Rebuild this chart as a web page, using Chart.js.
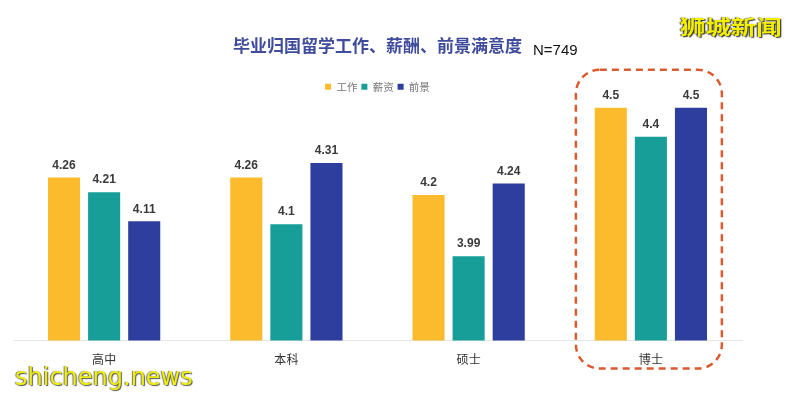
<!DOCTYPE html>
<html>
<head>
<meta charset="utf-8">
<script src="https://cdn.jsdelivr.net/npm/chart.js@4.4.1/dist/chart.umd.min.js"></script>
<style>
html,body{margin:0;padding:0;background:#fff;}
#wrap{position:relative;width:800px;height:397px;overflow:hidden;}
canvas{display:block;}
.n{position:absolute;left:533px;top:41px;font:15px "Liberation Sans",Arial,sans-serif;color:#111;}
.wm1{position:absolute;left:680px;top:16px;font:bold 20px "Noto Sans CJK SC",sans-serif;color:#f3ef00;text-shadow:1px 1px 1px #333,-1px 0 1px #555;line-height:22px;transform-origin:0 0;transform:scaleX(1.27);white-space:nowrap;}
.wm2{position:absolute;left:15px;top:363px;font:24px "DejaVu Sans",sans-serif;color:#eeee10;text-shadow:1px 1px 1px #555,-1px 0 1px #777;line-height:28px;white-space:nowrap;}
</style>
</head>
<body>
<div id="wrap">
<canvas id="c" width="800" height="397"></canvas>
<div class="n">N=749</div>
<div class="wm1">狮城新闻</div>
<div class="wm2">shicheng.news</div>
</div>
<script>
const categories = ["高中", "本科", "硕士", "博士"];
const seriesNames = ["工作", "薪资", "前景"];
const workValues = [4.26, 4.26, 4.2, 4.5];
const salaryValues = [4.21, 4.1, 3.99, 4.4];
const prospectValues = [4.11, 4.31, 4.24, 4.5];
const titleText = "毕业归国留学工作、薪酬、前景满意度";
const highlightIndex = 3;

const colors = ["#fbbb2d", "#179e98", "#2e3e9e"];

const labelPlugin = {
  id: "valueLabels",
  afterDatasetsDraw(chart) {
    const ctx = chart.ctx;
    ctx.save();
    ctx.font = "bold 12px 'Liberation Sans', Arial, sans-serif";
    ctx.fillStyle = "#3a3a3a";
    ctx.textAlign = "center";
    ctx.textBaseline = "middle";
    chart.data.datasets.forEach((ds, di) => {
      const meta = chart.getDatasetMeta(di);
      meta.data.forEach((bar, i) => {
        ctx.fillText(String(ds.data[i]), bar.x, bar.y - 12);
      });
    });
    ctx.restore();
  }
};

const boxPlugin = {
  id: "highlightBox",
  afterDraw(chart) {
    const ctx = chart.ctx;
    const xs = chart.scales.x;
    const ys = chart.scales.y;
    const cx = xs.getPixelForValue(highlightIndex);
    const left = cx - 75, right = cx + 71;
    const top = ys.getPixelForValue(4.5) - 38;
    const bottom = ys.bottom + 28;
    const r = 24;
    ctx.save();
    ctx.strokeStyle = "#db5a2f";
    ctx.lineWidth = 2.5;
    ctx.setLineDash([7, 5]);
    ctx.beginPath();
    ctx.roundRect(left, top, right - left, bottom - top, r);
    ctx.stroke();
    ctx.restore();
  }
};

const valueSets = [workValues, salaryValues, prospectValues];

new Chart(document.getElementById("c"), {
  type: "bar",
  data: {
    labels: categories,
    datasets: seriesNames.map((name, i) => ({
      label: name,
      data: valueSets[i],
      backgroundColor: colors[i],
      borderWidth: 0,
      categoryPercentage: 0.66,
      barPercentage: 0.8
    }))
  },
  options: {
    responsive: false,
    animation: false,
    devicePixelRatio: 1,
    layout: { padding: { left: 13, right: 58, top: 0, bottom: 18 } },
    plugins: {
      title: {
        display: true,
        text: titleText,
        color: "#3f4c9c",
        font: { family: "'Noto Sans CJK SC', sans-serif", size: 17, weight: "bold", lineHeight: 1.2 },
        padding: { top: 35, bottom: 22 }
      },
      legend: {
        display: true,
        labels: {
          boxWidth: 6,
          boxHeight: 6,
          padding: 4,
          color: "#777",
          font: { family: "'Noto Sans CJK SC', sans-serif", size: 10.5 }
        }
      },
      tooltip: { enabled: false }
    },
    scales: {
      x: {
        grid: { display: false, drawTicks: false },
        border: { display: true, color: "#e4e6ea", width: 1 },
        ticks: { padding: 12, color: "#333", font: { family: "'Noto Sans CJK SC', sans-serif", size: 12 } }
      },
      y: {
        display: false,
        min: 3.7,
        max: 4.52
      }
    }
  },
  plugins: [labelPlugin, boxPlugin]
});
</script>
</body>
</html>
